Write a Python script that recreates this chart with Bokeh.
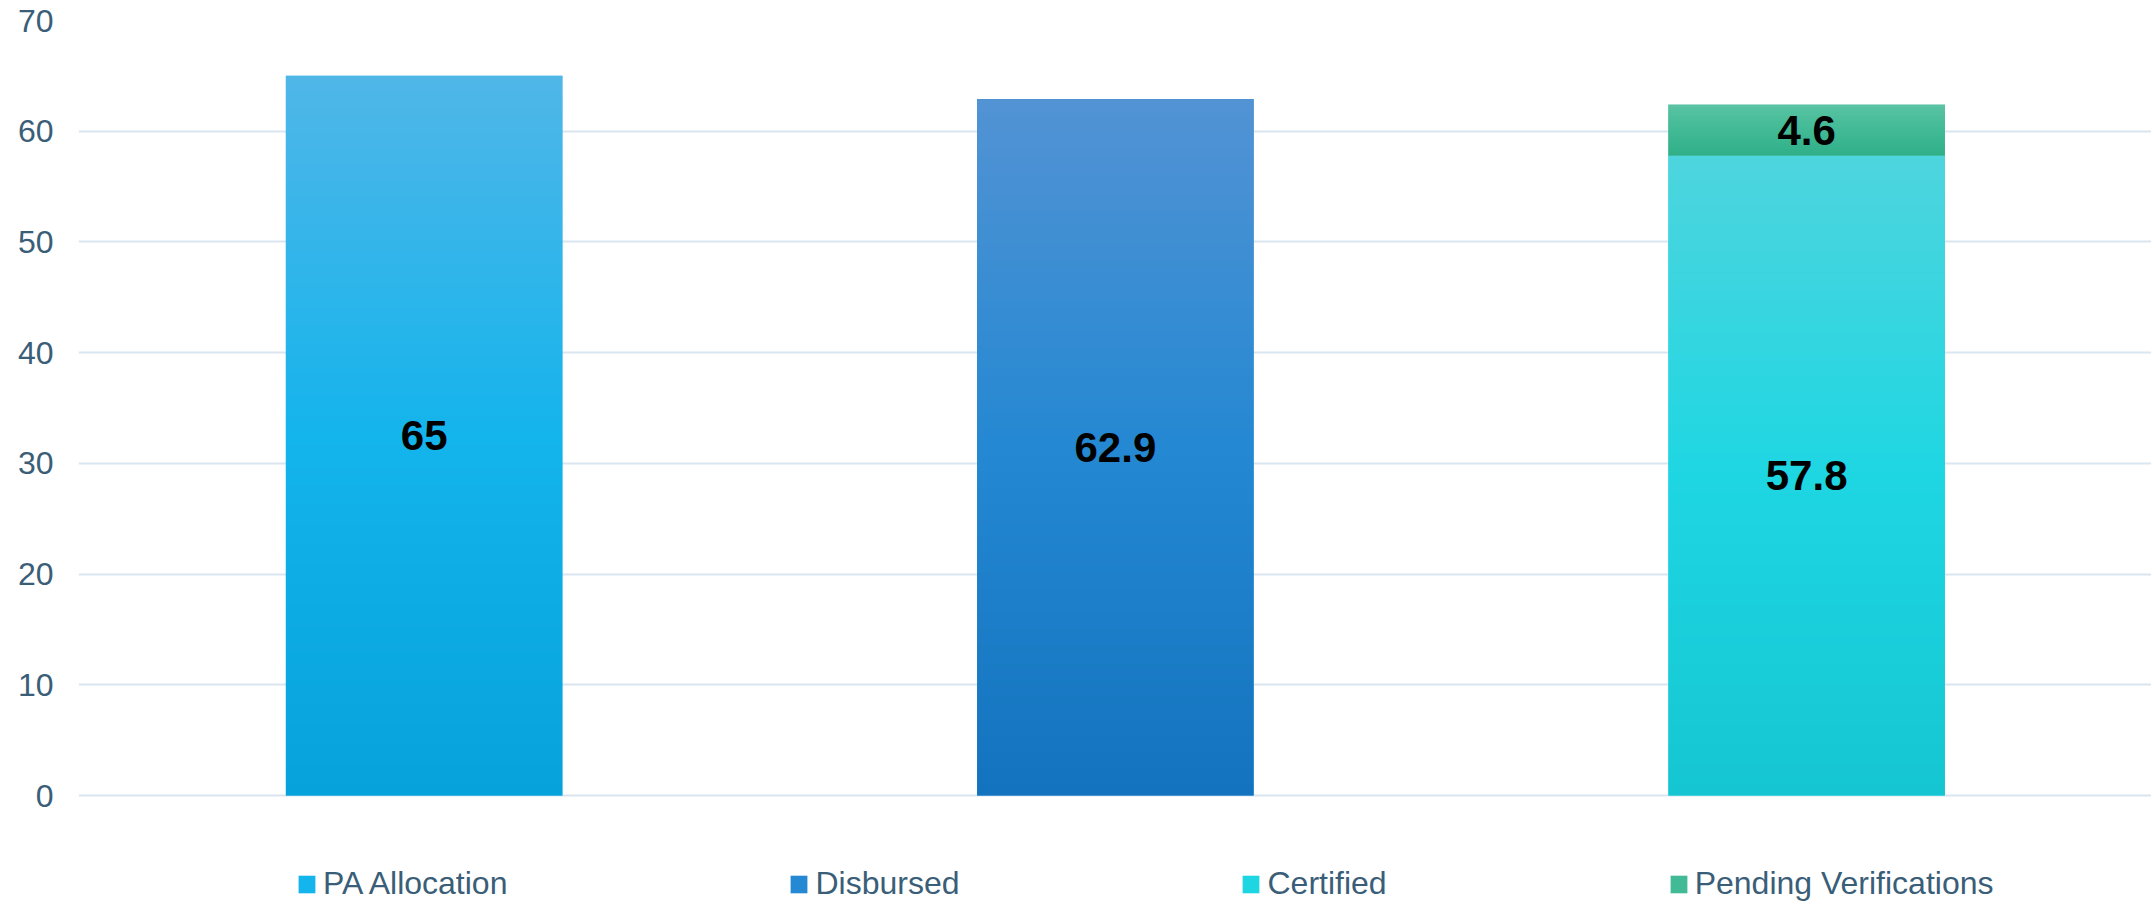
import numpy as np
from bokeh.plotting import figure
from bokeh.models import Legend, LegendItem, FixedTicker, Range1d
from bokeh.core.properties import value
from bokeh.embed import file_html
from bokeh.resources import INLINE

# ---------------- data ----------------
categories = ["PA Allocation", "Disbursed", "Certified"]
pa_allocation = [65.0]
disbursed = [62.9]
certified = [57.8]
pending_verifications = [4.6]
y_ticks = [0, 10, 20, 30, 40, 50, 60, 70]
legend_labels = ["PA Allocation", "Disbursed", "Certified", "Pending Verifications"]

# ---------------- styles ----------------
FONT = "Liberation Sans"
TEXT_COLOR = "#3a5e78"
GRID_COLOR = "#d9e5ef"
# gradient stops (bottom, middle, top) per series
grad_colors = {
    "PA Allocation": [(6, 162, 220), (20, 180, 236), (80, 182, 232)],
    "Disbursed": [(20, 115, 190), (36, 136, 210), (82, 147, 212)],
    "Certified": [(21, 198, 210), (30, 214, 226), (78, 213, 222)],
    "Pending Verifications": [(48, 176, 136), (66, 186, 150), (92, 196, 164)],
}
solid_colors = {k: "#%02x%02x%02x" % v[1] for k, v in grad_colors.items()}


def gradient(stops, n=256):
    t = np.linspace(0.0, 1.0, n)
    pos = [0.0, 0.5, 1.0]
    rgb = np.zeros((n, 3))
    for c in range(3):
        rgb[:, c] = np.interp(t, pos, [s[c] for s in stops])
    img = np.empty((n, 1), dtype=np.uint32)
    view = img.view(dtype=np.uint8).reshape((n, 1, 4))
    view[:, 0, 0] = rgb[:, 0].round()
    view[:, 0, 1] = rgb[:, 1].round()
    view[:, 0, 2] = rgb[:, 2].round()
    view[:, 0, 3] = 255
    return img


W, H = 2151, 906
LEFT, TOP = 78, 20
ZERO_Y = 795
px_per_unit_x = 691.25
px_per_unit_y = (ZERO_Y - TOP) / 70.0
p = figure(
    width=W, height=H, output_backend="svg", toolbar_location=None,
    title=None,
    x_range=Range1d(0, (W - LEFT) / px_per_unit_x),
    y_range=Range1d(-(H - ZERO_Y) / px_per_unit_y, 70),
    min_border_left=LEFT, min_border_right=0, min_border_top=TOP, min_border_bottom=0,
)
p.outline_line_color = None
p.background_fill_color = "white"
p.border_fill_color = "white"

bar_w = 0.4
segments = [
    ("PA Allocation", 0, 0.0, pa_allocation[0]),
    ("Disbursed", 1, 0.0, disbursed[0]),
    ("Certified", 2, 0.0, certified[0]),
    ("Pending Verifications", 2, certified[0], certified[0] + pending_verifications[0]),
]

renderers = {}
for name, idx, bottom, top in segments:
    xc = idx + 0.5
    r = p.vbar(x=[xc], width=bar_w, bottom=[bottom], top=[top],
               fill_color=solid_colors[name], line_color=None)
    renderers[name] = r
    p.image_rgba(image=[gradient(grad_colors[name])], x=[xc - bar_w / 2], y=[bottom],
                 dw=[bar_w], dh=[top - bottom])

# value labels
label_x = [s[1] + 0.5 for s in segments]
label_y = [(s[2] + s[3]) / 2 for s in segments]
label_t = [f"{pa_allocation[0]:g}", f"{disbursed[0]:g}", f"{certified[0]:g}",
           f"{pending_verifications[0]:g}"]
p.text(x=label_x, y=label_y, text=label_t, text_align="center", text_baseline="middle",
       text_font=value(FONT), text_font_style="bold", text_font_size="42px",
       text_color="black")

# axes
p.xaxis.visible = False
p.xgrid.visible = False
p.yaxis.ticker = FixedTicker(ticks=y_ticks)
p.yaxis.axis_line_color = None
p.yaxis.major_tick_line_color = None
p.yaxis.minor_tick_line_color = None
p.yaxis.major_tick_out = 0
p.yaxis.major_tick_in = 0
p.yaxis.major_label_standoff = 25
p.yaxis.major_label_text_font = FONT
p.yaxis.major_label_text_font_size = "32px"
p.yaxis.major_label_text_color = TEXT_COLOR
p.ygrid.ticker = FixedTicker(ticks=y_ticks)
p.ygrid.grid_line_color = GRID_COLOR
p.ygrid.grid_line_width = 2

legend = Legend(
    items=[LegendItem(label=l, renderers=[renderers[l]]) for l in legend_labels],
    orientation="horizontal", location=(218, 4), spacing=281, padding=0, margin=0,
    glyph_width=21, glyph_height=22, label_standoff=6,
    label_text_font=FONT, label_text_font_size="32px", label_text_color=TEXT_COLOR,
    border_line_alpha=0, background_fill_alpha=0,
)
p.add_layout(legend)

open("out.html", "w").write(file_html(p, INLINE))
